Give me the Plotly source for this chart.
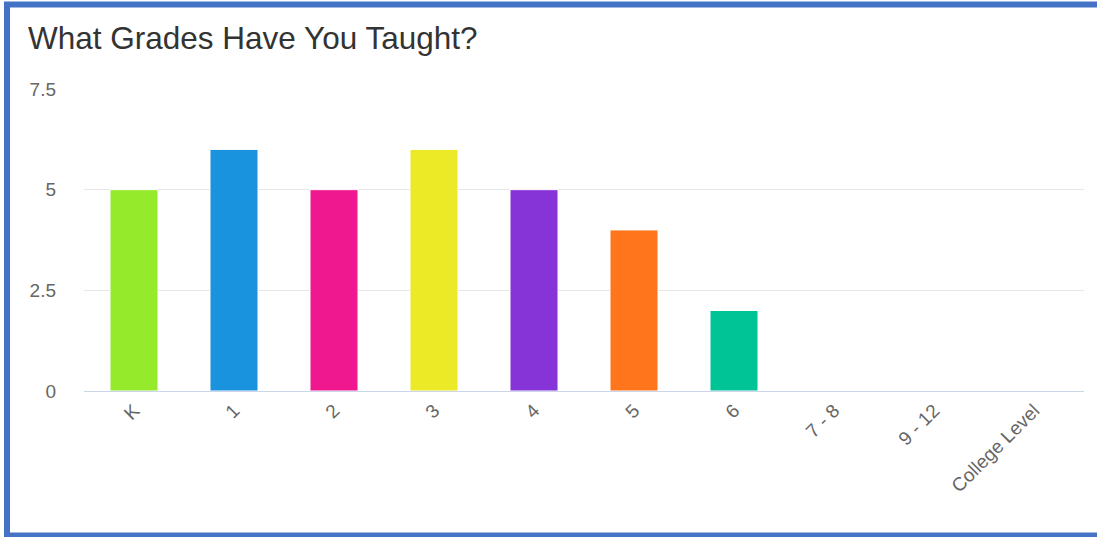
import plotly.graph_objects as go

categories = ["K", "1", "2", "3", "4", "5", "6", "7 - 8", "9 - 12", "College Level"]
values = [5, 6, 5, 6, 5, 4, 2, 0, 0, 0]
colors = ["#95EA2B", "#1A93DE", "#F0188F", "#ECE926", "#8633D8", "#FE751C", "#00C496",
          "#7cb5ec", "#434348", "#90ed7d"]
y_ticks = [0, 2.5, 5, 7.5]
title_text = "What Grades Have You Taught?"

W, H = 1097, 537
L, R, T, B = 84, 13, 89, 146
pw, ph = W - L - R, H - T - B

def px_x(px):
    return (px - L) / pw

def px_y(py):
    return (H - B - py) / ph

border = dict(color="#4472C4", width=6)
fig = go.Figure(go.Bar(
    x=categories, y=values,
    marker=dict(color=colors, line=dict(color="white", width=1)),
    width=0.48,
))

fig.update_layout(
    width=W, height=H,
    margin=dict(l=L, r=R, t=T, b=B, autoexpand=False),
    paper_bgcolor="white", plot_bgcolor="white",
    showlegend=False,
    font=dict(family="Liberation Sans, Arial, sans-serif", color="#666666"),
    title=dict(text=title_text, x=28 / W, xanchor="left",
               y=1 - 38 / H, yanchor="middle", yref="container",
               font=dict(size=31.5, color="#333333")),
    xaxis=dict(tickangle=-45, showgrid=False, showline=True, linecolor="#ccd6eb",
               linewidth=1, ticks="", tickfont=dict(size=19, color="#666666"),
               range=[-0.5, len(categories) - 0.5]),
    yaxis=dict(range=[0, 7.5], tickvals=y_ticks, ticktext=["0", "2.5", "5", "7.5"],
               showgrid=True, gridcolor="#e6e6e6", gridwidth=1, zeroline=False,
               showline=False, ticks="", ticklen=0, ticklabelstandoff=27,
               tickfont=dict(size=19, color="#666666")),
    shapes=[
        dict(type="line", xref="paper", yref="paper", x0=px_x(7), x1=px_x(7),
             y0=px_y(540), y1=px_y(2), line=border, layer="above"),
        dict(type="line", xref="paper", yref="paper", x0=px_x(4), x1=px_x(1097),
             y0=px_y(4.5), y1=px_y(4.5), line=border, layer="above"),
        dict(type="line", xref="paper", yref="paper", x0=px_x(4), x1=px_x(1097),
             y0=px_y(535.5), y1=px_y(535.5), line=border, layer="above"),
    ],
)

fig.write_html("out.html",
               config={"displayModeBar": False},
               post_script="document.body.style.margin='0';document.body.style.overflow='hidden';")
